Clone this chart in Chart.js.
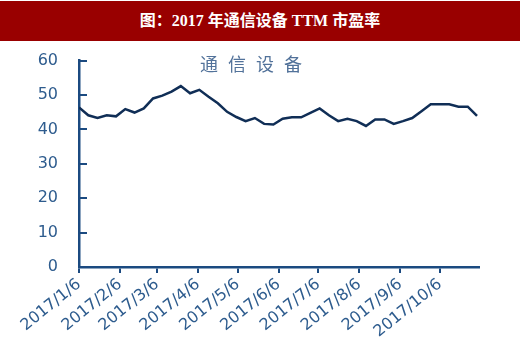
<!DOCTYPE html>
<html lang="zh">
<head>
<meta charset="UTF-8">
<title>2017年通信设备TTM市盈率</title>
<script src="https://cdn.jsdelivr.net/npm/chart.js"></script>
<style>
    body { margin: 0; width: 520px; height: 352px; background: #fff; position: relative; overflow: hidden; }
    #banner {
        position: absolute; left: 0; top: 1px; width: 520px; height: 40px; z-index: 2;
        background: #990000; color: #fff;
        font: bold 16px "Liberation Serif", "Noto Sans CJK SC", serif;
        text-align: center; line-height: 40px;
    }
    #box { position: absolute; left: 0; top: 30px; width: 520px; height: 322px; }
    #series {
        position: absolute; left: 200px; top: 50px;
        font: 18px "Noto Sans CJK SC", sans-serif; letter-spacing: 10px;
        color: #52729a;
    }
</style>
</head>
<body>
<div id="box"><canvas id="chart"></canvas></div>
<div id="banner">图：2017 年通信设备 TTM 市盈率</div>
<div id="series">通信设备</div>
<script>
// weekly dates (Fridays)
const dates = [
    '2017/1/6', '2017/1/13', '2017/1/20', '2017/1/27',
    '2017/2/3', '2017/2/10', '2017/2/17', '2017/2/24',
    '2017/3/3', '2017/3/10', '2017/3/17', '2017/3/24', '2017/3/31',
    '2017/4/7', '2017/4/14', '2017/4/21', '2017/4/28',
    '2017/5/5', '2017/5/12', '2017/5/19', '2017/5/26',
    '2017/6/2', '2017/6/9', '2017/6/16', '2017/6/23', '2017/6/30',
    '2017/7/7', '2017/7/14', '2017/7/21', '2017/7/28',
    '2017/8/4', '2017/8/11', '2017/8/18', '2017/8/25',
    '2017/9/1', '2017/9/8', '2017/9/15', '2017/9/22', '2017/9/29',
    '2017/10/6', '2017/10/13', '2017/10/20', '2017/10/27',
    '2017/11/3'
];
const peTTM = [
    46.4, 44.1, 43.3, 44.1, 43.8, 45.9, 44.9, 46.1, 49.0, 49.8,
    51.0, 52.6, 50.5, 51.5, 49.5, 47.6, 45.1, 43.6, 42.4, 43.3,
    41.6, 41.4, 43.1, 43.5, 43.5, 44.8, 46.1, 44.1, 42.4, 43.1,
    42.4, 41.0, 42.9, 42.9, 41.6, 42.4, 43.3, 45.3, 47.3, 47.3,
    47.3, 46.6, 46.6, 43.9
];
const tickLabels = ['2017/1/6', '2017/2/6', '2017/3/6', '2017/4/6', '2017/5/6',
                    '2017/6/6', '2017/7/6', '2017/8/6', '2017/9/6', '2017/10/6'];
const yTicks = [0, 10, 20, 30, 40, 50, 60];

// jours depuis le 2017/1/6
function dayOf(s) {
    const p = s.split('/').map(Number);
    return (Date.UTC(p[0], p[1] - 1, p[2]) - Date.UTC(2017, 0, 6)) / 86400000;
}
const tickDays = tickLabels.map(dayOf);

const axisColor = '#1b4a80';
const labelColor = '#2e5c8e';

// petits traits vers l'intérieur sur l'axe Y
const innerTicks = {
    id: 'innerTicks',
    afterDraw(chart) {
        const ctx = chart.ctx, y = chart.scales.y, x0 = chart.chartArea.left;
        ctx.save();
        ctx.strokeStyle = axisColor;
        ctx.lineWidth = 2;
        yTicks.forEach(v => {
            const py = Math.round(y.getPixelForValue(v));
            ctx.beginPath();
            ctx.moveTo(x0, py);
            ctx.lineTo(x0 + 8, py);
            ctx.stroke();
        });
        ctx.restore();
    }
};

new Chart(document.getElementById('chart'), {
    type: 'line',
    data: {
        datasets: [{
            label: '通信设备',
            data: dates.map((d, i) => ({ x: dayOf(d), y: peTTM[i] })),
            borderColor: '#102e56',
            borderWidth: 2.5,
            pointRadius: 0,
            tension: 0,
            fill: false
        }]
    },
    options: {
        responsive: true,
        maintainAspectRatio: false,
        animation: false,
        layout: { padding: { top: 9, right: 41, left: 0, bottom: 0 } },
        plugins: { legend: { display: false }, tooltip: { enabled: false } },
        scales: {
            x: {
                type: 'linear',
                min: 0,
                max: 302.5,
                afterBuildTicks: s => { s.ticks = tickDays.map(v => ({ value: v })); },
                afterFit: s => { s.height = 85; },
                grid: { drawOnChartArea: false, drawTicks: true, tickLength: 6, color: axisColor, lineWidth: 2 },
                border: { display: true, color: axisColor, width: 2.5 },
                ticks: {
                    autoSkip: false,
                    minRotation: 39,
                    maxRotation: 39,
                    padding: 2,
                    color: labelColor,
                    font: { family: 'DejaVu Sans', size: 16 },
                    callback: (v) => tickLabels[tickDays.indexOf(v)]
                }
            },
            y: {
                min: 0,
                max: 60,
                afterBuildTicks: s => { s.ticks = yTicks.map(v => ({ value: v })); },
                afterFit: s => { s.width = 79; },
                grid: { drawOnChartArea: false, drawTicks: false },
                border: { display: true, color: axisColor, width: 2.5 },
                ticks: {
                    padding: 21,
                    color: labelColor,
                    font: { family: 'DejaVu Sans', size: 16 }
                }
            }
        }
    },
    plugins: [innerTicks]
});
</script>
</body>
</html>
